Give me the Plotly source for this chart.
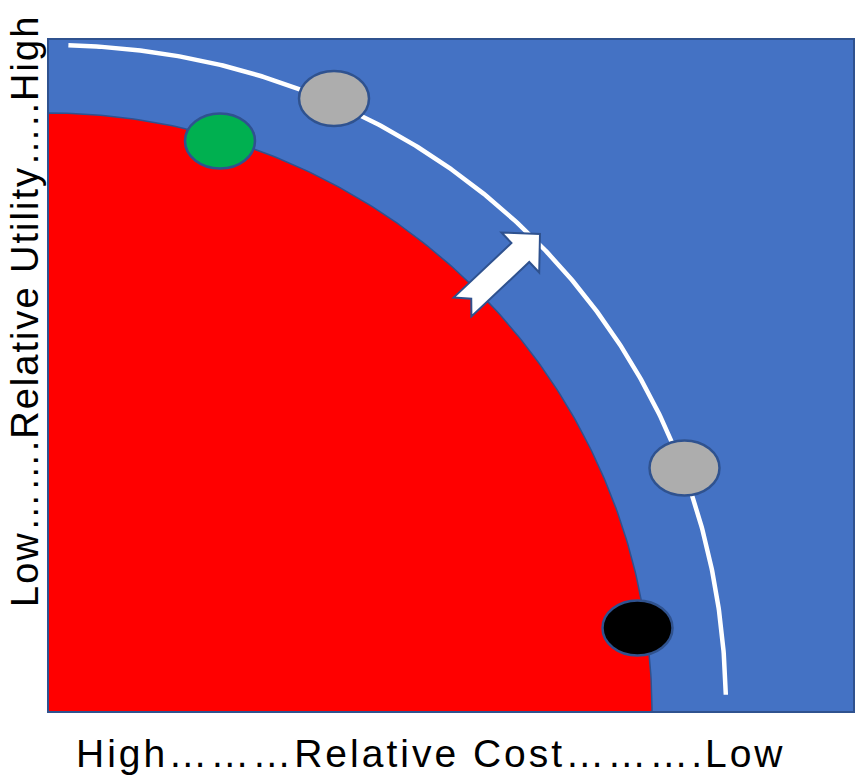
import numpy as np
import plotly.graph_objects as go

# Plot area in drawing units (1 unit = 1 px)
X_MAX, Y_MAX = 806, 673

# Current cost/utility frontier (red region) - semi-axes along cost and utility
frontier_cost = 604
frontier_utility = 599

# Shifted frontier (white curve) - semi-axes, curve exponent and visible limits
shift_cost = 678
shift_utility = 667
shift_exponent = 2.05
shift_cost_start = 20
shift_utility_end = 17

# Products placed on the chart
product_names = ["Product A", "Product B", "Product C", "Product D"]
product_cost = [286, 172, 636.5, 589.5]
product_utility = [613.5, 571, 244, 84]
product_colors = ["#ADADAD", "#00B050", "#ADADAD", "#000000"]

# Shift arrow: tail centre and tip
arrow_tail = (414.5, 405)
arrow_tip = (492, 478)

x_title = "High………Relative Cost……….Low"
y_title = "Low…….Relative Utility…..High"

BLUE = "#4472C4"
EDGE = "#2F528F"
FONT = "Liberation Sans"

fig = go.Figure()

# Red region under the current frontier
t = np.linspace(0, np.pi / 2, 200)
fx = frontier_cost * np.cos(t)
fy = frontier_utility * np.sin(t)
fig.add_trace(go.Scatter(
    x=np.concatenate([[0], fx, [0]]),
    y=np.concatenate([[0], fy, [0]]),
    mode="lines", fill="toself", fillcolor="#FF0000",
    line=dict(color=EDGE, width=1.5), hoverinfo="skip", showlegend=False,
))

# White shifted frontier
t2 = np.linspace(0, np.pi / 2, 400)
sx = shift_cost * np.cos(t2) ** (2 / shift_exponent)
sy = shift_utility * np.sin(t2) ** (2 / shift_exponent)
keep = (sx >= shift_cost_start) & (sy >= shift_utility_end)
fig.add_trace(go.Scatter(
    x=sx[keep], y=sy[keep], mode="lines",
    line=dict(color="white", width=4.5), hoverinfo="skip", showlegend=False,
))

shapes = []

# Product ellipses
RX, RY = 35, 27.5
for name, cx, cy, col in zip(product_names, product_cost, product_utility, product_colors):
    shapes.append(dict(
        type="circle", xref="x", yref="y",
        x0=cx - RX, x1=cx + RX, y0=cy - RY, y1=cy + RY,
        fillcolor=col, line=dict(color=EDGE, width=2.5), layer="above",
    ))

# Notched block arrow from the red frontier toward the white one
T = np.array(arrow_tail)
E = np.array(arrow_tip)
u = (E - T) / np.linalg.norm(E - T)
n = np.array([-u[1], u[0]])
shaft_half, head_half, head_len, notch = 13, 27.5, 27, 12
B = E - u * head_len
pts = [T + n * shaft_half, T + u * notch, T - n * shaft_half,
       B - n * shaft_half, B - n * head_half, E,
       B + n * head_half, B + n * shaft_half]
path = "M " + " L ".join(f"{p[0]:.2f},{p[1]:.2f}" for p in pts) + " Z"
shapes.append(dict(type="path", xref="x", yref="y", path=path,
                   fillcolor="white", line=dict(color=EDGE, width=2), layer="above"))

# Frame around the plot area
shapes.append(dict(type="rect", xref="x domain", yref="y domain",
                   x0=0, x1=1, y0=0, y1=1, line=dict(color=EDGE, width=2),
                   fillcolor="rgba(0,0,0,0)", layer="above"))


def spaced(text, px):
    return f'<span style="letter-spacing:{px}px">{text}</span>'


# Axis titles placed in paper coordinates (outside the plot area)
annotations = [
    dict(text=spaced(x_title, 3), x=383 / X_MAX, y=-41 / Y_MAX, xref="paper", yref="paper",
         showarrow=False, font=dict(family=FONT, size=39, color="black"),
         xanchor="center", yanchor="middle"),
    dict(text=spaced(y_title, 2), x=-23 / X_MAX, y=401 / Y_MAX, xref="paper", yref="paper",
         showarrow=False, textangle=-90, font=dict(family=FONT, size=38, color="black"),
         xanchor="center", yanchor="middle"),
]

fig.update_layout(
    width=856, height=778,
    margin=dict(l=48, r=2, t=39, b=66),
    paper_bgcolor="white", plot_bgcolor=BLUE,
    xaxis=dict(range=[0, X_MAX], showgrid=False, zeroline=False, showticklabels=False,
               ticks="", fixedrange=True),
    yaxis=dict(range=[0, Y_MAX], showgrid=False, zeroline=False, showticklabels=False,
               ticks="", fixedrange=True),
    shapes=shapes, annotations=annotations, showlegend=False,
)

fig.write_html("out.html", config={"displayModeBar": False})
